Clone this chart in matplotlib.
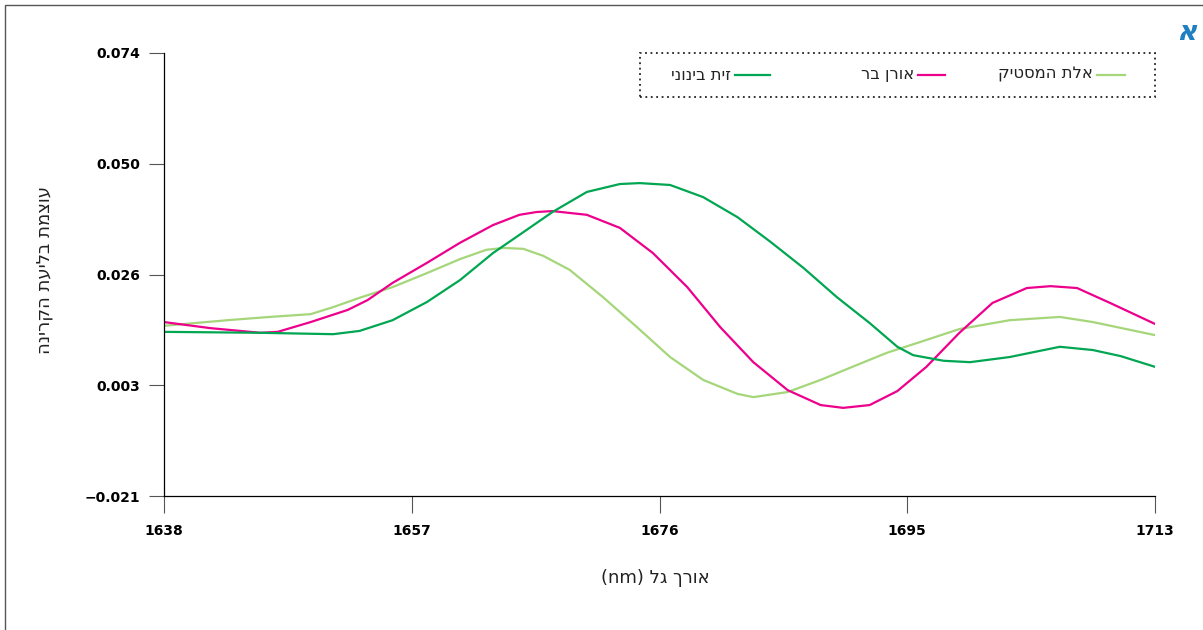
import matplotlib.pyplot as plt
from matplotlib.patches import Rectangle
from matplotlib.lines import Line2D

# wavelength (nm) and absorbance readings per species
x_pistacia = [1638, 1642.8, 1646.0, 1649.1, 1650.8, 1652.8, 1655.3, 1657.9, 1660.4, 1662.4,
              1663.7, 1665.2, 1666.7, 1668.7, 1671.2, 1673.8, 1676.3, 1678.8, 1681.4, 1682.6,
              1685.2, 1687.7, 1690.1, 1692.7, 1695.2, 1698.2, 1702.0, 1705.8, 1708.3, 1713]
y_pistacia = [0.0155, 0.0167, 0.0174, 0.0180, 0.0195, 0.0215, 0.0238, 0.0268, 0.0298, 0.0318,
              0.0322, 0.0320, 0.0305, 0.0275, 0.0217, 0.0152, 0.0088, 0.0039, 0.0009, 0.0002,
              0.0013, 0.0039, 0.0067, 0.0097, 0.0120, 0.0148, 0.0167, 0.0174, 0.0163, 0.0135]

x_pine = [1638, 1641.5, 1645.3, 1646.6, 1649.1, 1651.9, 1653.4, 1655.3, 1657.9, 1660.4,
          1662.9, 1664.9, 1666.2, 1667.4, 1670.0, 1672.5, 1675.0, 1677.6, 1680.1, 1682.6,
          1685.2, 1687.7, 1689.4, 1691.4, 1693.5, 1695.7, 1698.2, 1700.7, 1703.3, 1705.1,
          1707.1, 1709.6, 1713]
y_pine = [0.0163, 0.0150, 0.0140, 0.0142, 0.0163, 0.0189, 0.0210, 0.0247, 0.0290, 0.0333,
          0.0371, 0.0393, 0.0399, 0.0401, 0.0393, 0.0365, 0.0311, 0.0238, 0.0152, 0.0077,
          0.0017, -0.0015, -0.0021, -0.0015, 0.0015, 0.0067, 0.0140, 0.0204, 0.0236, 0.0240,
          0.0236, 0.0204, 0.0159]

x_olive = [1638, 1645.3, 1650.8, 1652.8, 1655.3, 1657.9, 1660.4, 1662.9, 1664.9, 1667.4,
           1670.0, 1672.5, 1674.0, 1676.3, 1678.8, 1681.4, 1683.9, 1686.4, 1688.9, 1691.4,
           1693.5, 1694.7, 1697.0, 1699.0, 1702.0, 1705.8, 1708.3, 1710.4, 1713]
y_olive = [0.0142, 0.0140, 0.0137, 0.0144, 0.0167, 0.0206, 0.0253, 0.0311, 0.0350, 0.0399,
           0.0442, 0.0459, 0.0461, 0.0457, 0.0431, 0.0388, 0.0335, 0.0279, 0.0217, 0.0161,
           0.0110, 0.0092, 0.0080, 0.0077, 0.0088, 0.0110, 0.0103, 0.0090, 0.0067]

names = ['אלת המסטיק', 'אורן בר', 'זית בינוני']
colors = ['#a5d67a', '#ec008c', '#00a651']

xticks = [1638, 1656.75, 1675.5, 1694.25, 1713]
xlabels = ['1638', '1657', '1676', '1695', '1713']
yticks = [-0.021, 0.00275, 0.0265, 0.05025, 0.074]
ylabels = ['\u22120.021', '0.003', '0.026', '0.050', '0.074']


def rtl(s):
    # matplotlib has no bidi support, so flip Hebrew for display
    return s[::-1]


plt.rcParams['font.family'] = ['DejaVu Sans']
heb = ['DejaVu Sans', 'Noto Sans']

fig = plt.figure(figsize=(12.03, 6.3), dpi=100)
ax = fig.add_axes([164 / 1203, 1 - 496 / 630, (1155 - 164) / 1203, (496 - 53) / 630])

ax.plot(x_pistacia, y_pistacia, color=colors[0], lw=1.6)
ax.plot(x_pine, y_pine, color=colors[1], lw=1.6)
ax.plot(x_olive, y_olive, color=colors[2], lw=1.6)

ax.set_xlim(1638, 1713)
ax.set_ylim(-0.021, 0.074)
ax.set_xticks(xticks)
ax.set_xticklabels(xlabels, fontsize=10, fontweight='bold')
ax.set_yticks(yticks)
ax.set_yticklabels(ylabels, fontsize=10, fontweight='bold')
ax.tick_params(axis='x', length=12, width=0.8, color='#555555', pad=8)
ax.tick_params(axis='y', length=11, width=0.8, color='#555555', pad=6)
for s in ['top', 'right']:
    ax.spines[s].set_visible(False)
ax.spines['left'].set_linewidth(0.9)
ax.spines['bottom'].set_linewidth(0.9)

fig.text(655 / 1203, 1 - 578 / 630, '(nm) ' + rtl('אורך גל'), fontsize=13, family=heb,
         ha='center', va='center', color='#222222')
fig.text(45 / 1203, 1 - 270 / 630, rtl('עוצמת בליעת הקרינה'), fontsize=13, family=heb,
         rotation=90, ha='center', va='center', color='#222222')

# legend box drawn by hand (right-to-left layout)
fig.patches.append(Rectangle((640 / 1203, 1 - 97 / 630), (1155 - 640) / 1203, 44 / 630,
                             transform=fig.transFigure, fill=False, lw=1.3,
                             linestyle=(0, (1, 2)), edgecolor='#222222'))
handle_x = [(1097, 1125), (918, 945), (735, 770)]
ly = 1 - 75 / 630
for (a, b), name, c in zip(handle_x, names, colors):
    fig.lines.append(Line2D([a / 1203, b / 1203], [ly, ly], transform=fig.transFigure,
                            color=c, lw=1.6))
    fig.text((a - 4) / 1203, ly, rtl(name), fontsize=11.8, family=heb, ha='right',
             va='center', color='#222222')

fig.text(1186 / 1203, 1 - 32 / 630, 'א', fontsize=20, fontweight='bold', style='italic',
         family=heb, color='#1f7fc0', ha='center', va='center')

# outer frame
fig.patches.append(Rectangle((5 / 1203, -0.1), 1.2, 1 - 5 / 630 + 0.1,
                             transform=fig.transFigure, fill=False, lw=1.0,
                             edgecolor='#555555'))

fig.savefig('out.png', dpi=100)
